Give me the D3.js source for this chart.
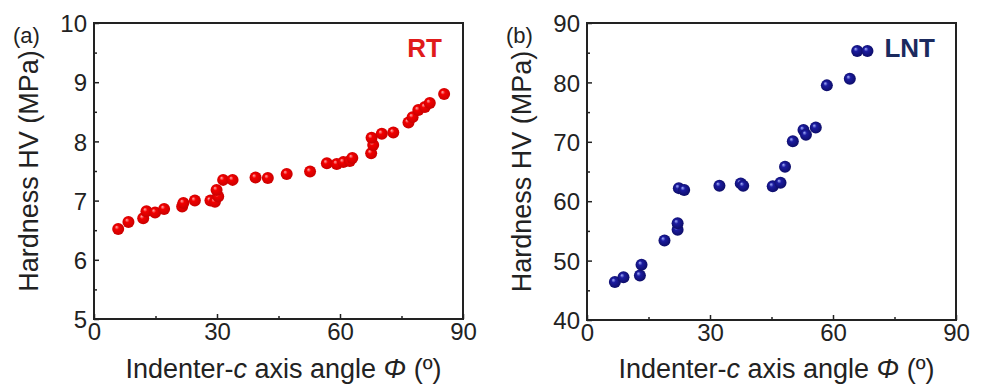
<!DOCTYPE html>
<html>
<head>
<meta charset="utf-8">
<script src="https://cdn.jsdelivr.net/npm/d3@7"></script>
<style>
  html, body { margin: 0; padding: 0; background: #fff; }
  svg { display: block; font-family: "Liberation Sans", Arial, sans-serif; }
  .tick text { font-size: 24px; fill: #222; }
  .atitle { font-size: 27px; fill: #222; }
</style>
</head>
<body>
<div id="container"></div>
<script>
// panel (a) RT
const rt_angle = [5.9, 8.4, 12.0, 12.8, 14.9, 17.1, 21.5, 21.8, 24.6, 28.4, 29.5, 30.3, 29.9, 31.5, 33.8,
                  39.4, 42.4, 47.0, 52.7, 56.8, 59.2, 60.8, 62.4, 63.0, 67.6, 68.1, 67.7, 70.2, 73.0,
                  76.7, 77.7, 79.1, 80.7, 81.9, 85.4];
const rt_hv = [6.52, 6.64, 6.70, 6.82, 6.80, 6.86, 6.90, 6.96, 7.00, 7.00, 6.98, 7.07, 7.18, 7.35, 7.35,
               7.39, 7.38, 7.45, 7.49, 7.63, 7.62, 7.65, 7.67, 7.72, 7.80, 7.94, 8.06, 8.13, 8.15,
               8.32, 8.41, 8.53, 8.58, 8.65, 8.80];

// panel (b) LNT
const lnt_angle = [6.8, 8.9, 12.9, 13.3, 18.9, 22.1, 22.1, 22.4, 23.7, 32.3, 37.5, 38.1, 45.3, 47.2,
                   48.3, 50.2, 52.8, 53.4, 55.8, 58.5, 64.1, 65.9, 68.4];
const lnt_hv = [46.4, 47.2, 47.5, 49.3, 53.4, 55.2, 56.3, 62.2, 61.9, 62.6, 63.0, 62.6, 62.5, 63.1,
                65.8, 70.1, 72.0, 71.2, 72.4, 79.5, 80.6, 85.3, 85.3];

const x_ticks = [0, 30, 60, 90],
      x_minor = [15, 45, 75];
const rt_yticks = [5, 6, 7, 8, 9, 10],
      rt_yminor = [5.5, 6.5, 7.5, 8.5, 9.5];
const lnt_yticks = [40, 50, 60, 70, 80, 90],
      lnt_yminor = [45, 55, 65, 75, 85];

var W = 981, H = 385;

var svg = d3.select("#container").append("svg")
    .attr("width", W)
    .attr("height", H);

var defs = svg.append("defs");

var ball = function(id, hi, mid, edge){
    var gr = defs.append("radialGradient")
	.attr("id", id)
	.attr("cx", "50%").attr("cy", "50%").attr("r", "60%")
	.attr("fx", "35%").attr("fy", "32%");
    gr.append("stop").attr("offset", "0%").attr("stop-color", hi);
    gr.append("stop").attr("offset", "30%").attr("stop-color", mid);
    gr.append("stop").attr("offset", "100%").attr("stop-color", edge);
}
ball("ballRed", "#ffb0b0", "#f20000", "#c00000");
ball("ballBlue", "#a8b4ff", "#1c1ca0", "#0a0a5c");

var panel = function(o){

    var x = d3.scaleLinear().domain([0, 90]).range([o.left, o.right]);
    var y = d3.scaleLinear().domain(o.ydom).range([o.bottom, o.top]);

    var g = svg.append("g");

    // minor ticks first, no labels
    g.append("g")
	.attr("transform", "translate(0," + o.bottom + ")")
	.call(d3.axisBottom(x).tickValues(x_minor).tickSize(-3).tickFormat(""))
	.call(s => s.select(".domain").remove());
    g.append("g")
	.attr("transform", "translate(" + o.left + ",0)")
	.call(d3.axisLeft(y).tickValues(o.yminor).tickSize(-3).tickFormat(""))
	.call(s => s.select(".domain").remove());

    var xa = g.append("g")
	.attr("transform", "translate(0," + o.bottom + ")")
	.call(d3.axisBottom(x).tickValues(x_ticks).tickSize(-5).tickPadding(4)
	      .tickFormat(d3.format("d")));
    xa.select(".domain").remove();

    var ya = g.append("g")
	.attr("transform", "translate(" + o.left + ",0)")
	.call(d3.axisLeft(y).tickValues(o.yticks).tickSize(-5).tickPadding(7)
	      .tickFormat(d3.format("d")));
    ya.select(".domain").remove();
    ya.selectAll(".tick text").attr("dy", "0.36em");

    g.selectAll(".tick line").attr("stroke", "#222").attr("stroke-width", 1.5);

    // frame
    g.append("rect")
	.attr("x", o.left).attr("y", o.top)
	.attr("width", o.right - o.left)
	.attr("height", o.bottom - o.top)
	.attr("fill", "none")
	.attr("stroke", "#222")
	.attr("stroke-width", 2);

    g.selectAll("circle.pt")
	.data(o.xs.map((a, i) => [a, o.ys[i]]))
	.enter()
	.append("circle")
	.classed("pt", true)
	.attr("cx", d => x(d[0]))
	.attr("cy", d => y(d[1]))
	.attr("r", 6)
	.attr("fill", "url(#" + o.grad + ")");

    // panel letter
    svg.append("text")
	.attr("x", o.left - 81)
	.attr("y", 43)
	.style("font-size", "22px")
	.style("fill", "#222")
	.text(o.letter);

    // condition label
    svg.append("text")
	.attr("x", o.right - 21)
	.attr("y", 57)
	.attr("text-anchor", "end")
	.style("font-size", "26px")
	.style("font-weight", "bold")
	.style("fill", o.lcolor)
	.text(o.label);

    // y title
    svg.append("text")
	.classed("atitle", true)
	.attr("transform", "translate(" + (o.left - 56) + "," + ((o.top + o.bottom) / 2) + ") rotate(-90)")
	.attr("text-anchor", "middle")
	.text("Hardness HV (MPa)");

    // x title
    var xt = svg.append("text")
	.classed("atitle", true)
	.attr("x", (o.left + o.right) / 2 + 5)
	.attr("y", 378)
	.attr("text-anchor", "middle");
    xt.append("tspan").text("Indenter-");
    xt.append("tspan").style("font-style", "italic").text("c");
    xt.append("tspan").text(" axis angle ");
    xt.append("tspan").style("font-style", "italic").text("\u03A6");
    xt.append("tspan").text(" (\u00BA)");
}

panel({left: 94, right: 463, top: 23, bottom: 319,
       ydom: [5, 10], yticks: rt_yticks, yminor: rt_yminor,
       xs: rt_angle, ys: rt_hv, grad: "ballRed",
       letter: "(a)", label: "RT", lcolor: "#e01b1b"});

panel({left: 587, right: 956, top: 23, bottom: 320,
       ydom: [40, 90], yticks: lnt_yticks, yminor: lnt_yminor,
       xs: lnt_angle, ys: lnt_hv, grad: "ballBlue",
       letter: "(b)", label: "LNT", lcolor: "#1b2a5e"});
</script>
</body>
</html>
